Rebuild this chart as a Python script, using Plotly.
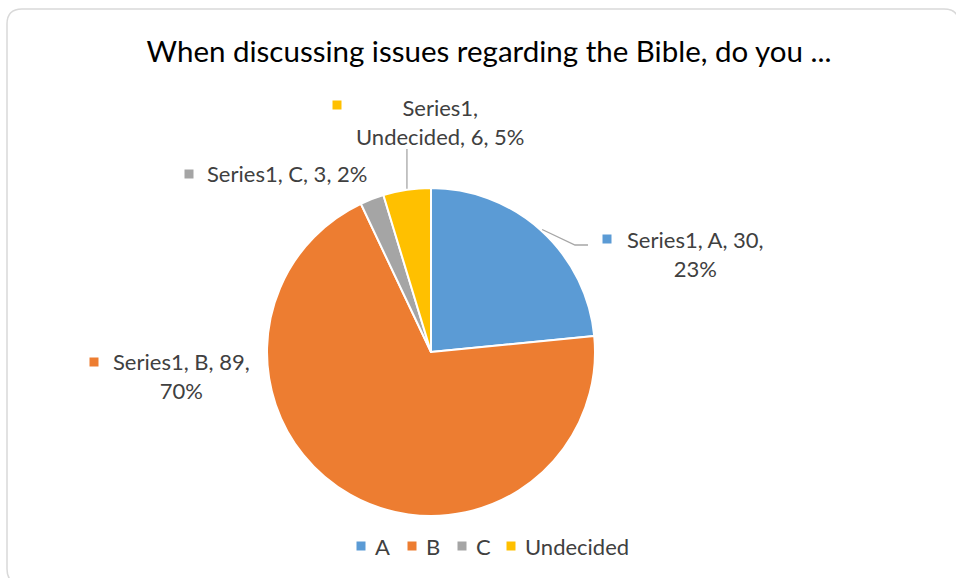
import math
import plotly.graph_objects as go

categories = ["A", "B", "C", "Undecided"]
values = [30, 89, 3, 6]
colors = ["#5B9BD5", "#ED7D31", "#A5A5A5", "#FFC000"]
series_name = "Series1"
title_text = "When discussing issues regarding the Bible, do you ..."

W, H = 956, 578
CX, CY, R = 431, 352, 164  # pie centre / radius in pixels

FONT = "Lato"
LABEL_COLOR = "#404040"
LABEL_SIZE = 22

fig = go.Figure(go.Pie(
    labels=categories, values=values, sort=False, direction="clockwise", rotation=0,
    marker=dict(colors=colors, line=dict(color="white", width=2)),
    textinfo="none", hoverinfo="label+value+percent", showlegend=False,
    domain=dict(x=[(CX - R) / W, (CX + R) / W], y=[1 - (CY + R) / H, 1 - (CY - R) / H]),
))

total = sum(values)
pcts = [round(v / total * 100) for v in values]

def px(x, y):
    return x / W, 1 - y / H

# mid-angle points on the pie edge
cum = 0
edge = []
for v in values:
    mid = (cum + v / 2) / total * 2 * math.pi
    edge.append((CX + R * math.sin(mid), CY - R * math.cos(mid)))
    cum += v

# data label layout: (text, text centre x, text centre y, marker x, marker y)
label_pos = {
    "A": (f"{series_name}, A, {values[0]},<br>{pcts[0]}%", 695, 254, 607, 239),
    "B": (f"{series_name}, B, {values[1]},<br>{pcts[1]}%", 181, 376, 94, 362),
    "C": (f"{series_name}, C, {values[2]}, {pcts[2]}%", 287, 174, 189, 174),
    "Undecided": (f"{series_name},<br>Undecided, {values[3]}, {pcts[3]}%", 440, 122, 337, 105),
}

annotations = []
shapes = []

def square(cx, cy, color, s=9):
    x0, y0 = px(cx - s / 2, cy + s / 2)
    x1, y1 = px(cx + s / 2, cy - s / 2)
    return dict(type="rect", xref="paper", yref="paper", x0=x0, y0=y0, x1=x1, y1=y1,
                fillcolor=color, line=dict(width=0))

for i, cat in enumerate(categories):
    txt, tx, ty, mx, my = label_pos[cat]
    x, y = px(tx, ty)
    annotations.append(dict(text=txt, x=x, y=y, xref="paper", yref="paper",
                            xanchor="center", yanchor="middle",
                            showarrow=False, align="center",
                            font=dict(family=FONT, size=LABEL_SIZE, color=LABEL_COLOR)))
    shapes.append(square(mx, my, colors[i]))

# leader lines
ex, ey = edge[3]
a, b = px(ex, ey - 1)
c, d = px(ex, 149)
shapes.append(dict(type="line", xref="paper", yref="paper", x0=a, y0=b, x1=c, y1=d,
                   line=dict(color="#A6A6A6", width=1.3)))
ex, ey = edge[0]
p0 = px(ex + 1, ey - 1)
p1 = px(575, 245)
p2 = px(588, 245)
shapes.append(dict(type="path", xref="paper", yref="paper",
                   path=f"M {p0[0]},{p0[1]} L {p1[0]},{p1[1]} L {p2[0]},{p2[1]}",
                   line=dict(color="#A6A6A6", width=1.3)))

# legend (drawn manually to match spacing)
legend_y = 546
legend_items = {"A": 361, "B": 412, "C": 462, "Undecided": 511}
for i, cat in enumerate(categories):
    mx = legend_items[cat]
    shapes.append(square(mx, legend_y, colors[i]))
    x, y = px(mx + 12, legend_y)
    annotations.append(dict(text=cat, x=x, y=y, xref="paper", yref="paper",
                            xanchor="left", yanchor="middle", showarrow=False,
                            font=dict(family=FONT, size=LABEL_SIZE, color=LABEL_COLOR)))

# chart border (rounded), extending past the right/bottom edges like the reference
def rounded_rect(x0, y0, x1, y1, r):
    return (f"M {x0+r},{y0} L {x1-r},{y0} Q {x1},{y0} {x1},{y0+r} L {x1},{y1-r} "
            f"Q {x1},{y1} {x1-r},{y1} L {x0+r},{y1} Q {x0},{y1} {x0},{y1-r} "
            f"L {x0},{y0+r} Q {x0},{y0} {x0+r},{y0} Z")

shapes.append(dict(type="path", xref="x", yref="y", path=rounded_rect(7, 9, 959, 584, 15),
                   line=dict(color="#D9D9D9", width=1.5), layer="below"))

fig.update_layout(
    width=W, height=H,
    margin=dict(l=0, r=0, t=0, b=0),
    paper_bgcolor="white", plot_bgcolor="white",
    xaxis=dict(range=[0, W], visible=False, fixedrange=True),
    yaxis=dict(range=[H, 0], visible=False, fixedrange=True),
    title=dict(text=title_text, x=489 / W, xanchor="center", y=1 - 52 / H, yanchor="middle",
               font=dict(family=FONT, size=29.5, color="#000000")),
    showlegend=False,
    annotations=annotations,
    shapes=shapes,
)

fig.write_html("out.html", config={"displayModeBar": False},
               post_script="document.body.style.margin='0px';")
